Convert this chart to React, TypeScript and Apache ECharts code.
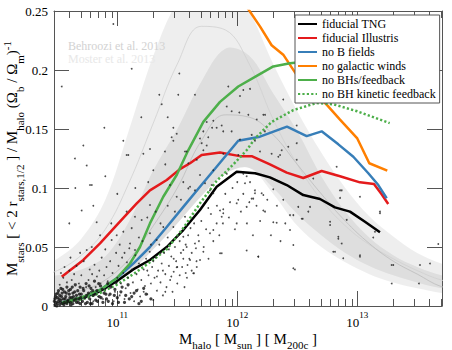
import React, { useEffect, useRef } from 'react';
import * as echarts from 'echarts';

const SERIF = 'Liberation Serif, Times New Roman, serif';
const X_MIN = 10.4725;
const X_MAX = 13.706;

// ---- observational bands (log10 Mhalo grid) ----
const bandGrid = [10.3, 10.5, 10.7, 10.9, 11.1, 11.3, 11.5, 11.7, 11.9, 12.1, 12.3, 12.5, 12.7, 12.9, 13.1, 13.3, 13.5, 13.7, 13.9];
const behrooziLo = [0.003, 0.004, 0.008, 0.014, 0.028, 0.048, 0.07, 0.093, 0.112, 0.117, 0.095, 0.068, 0.05, 0.037, 0.027, 0.02, 0.015, 0.011, 0.009];
const behrooziHi = [0.03, 0.04, 0.057, 0.09, 0.15, 0.212, 0.258, 0.28, 0.28, 0.25, 0.205, 0.165, 0.13, 0.1, 0.076, 0.059, 0.045, 0.036, 0.029];
const behrooziMid = [0.024, 0.03, 0.043, 0.065, 0.105, 0.155, 0.205, 0.237, 0.234, 0.205, 0.158, 0.12, 0.09, 0.068, 0.052, 0.04, 0.03, 0.022, 0.018];
const mosterLo = [0.003, 0.004, 0.008, 0.014, 0.028, 0.048, 0.07, 0.093, 0.112, 0.117, 0.1, 0.078, 0.06, 0.045, 0.034, 0.026, 0.02, 0.015, 0.012];
const mosterHi = [0.024, 0.026, 0.031, 0.042, 0.072, 0.115, 0.15, 0.19, 0.218, 0.212, 0.18, 0.148, 0.11, 0.08, 0.058, 0.043, 0.033, 0.026, 0.021];
const mosterMid = [0.006, 0.008, 0.013, 0.022, 0.04, 0.068, 0.1, 0.14, 0.162, 0.16, 0.145, 0.12, 0.095, 0.072, 0.053, 0.038, 0.027, 0.0165, 0.013];

// ---- simulation medians ----
const tngM = [10.537, 10.717, 10.856, 10.995, 11.133, 11.272, 11.412, 11.55, 11.689, 11.828, 11.995, 12.148, 12.272, 12.412, 12.55, 12.689, 12.814, 12.939, 13.064, 13.189];
const tngV = [0.0023, 0.007, 0.0125, 0.021, 0.031, 0.039, 0.05, 0.0644, 0.0814, 0.101, 0.1138, 0.1125, 0.109, 0.1025, 0.094, 0.0907, 0.0836, 0.08, 0.0714, 0.0625];
const illM = [10.537, 10.717, 10.856, 10.995, 11.162, 11.272, 11.412, 11.522, 11.606, 11.703, 11.856, 12.022, 12.12, 12.272, 12.412, 12.55, 12.703, 12.856, 13.022, 13.139, 13.203, 13.258];
const illV = [0.0248, 0.039, 0.053, 0.0686, 0.087, 0.098, 0.1068, 0.116, 0.121, 0.128, 0.13, 0.127, 0.127, 0.12, 0.113, 0.1085, 0.1144, 0.11, 0.1048, 0.1034, 0.0947, 0.0864];
const noBM = [10.537, 10.717, 10.856, 10.995, 11.133, 11.272, 11.412, 11.55, 11.689, 11.828, 12.008, 12.189, 12.414, 12.578, 12.703, 12.842, 12.967, 13.092, 13.175, 13.245];
const noBV = [0.003, 0.0076, 0.0136, 0.0235, 0.036, 0.05, 0.067, 0.084, 0.101, 0.118, 0.14, 0.1435, 0.152, 0.144, 0.148, 0.137, 0.1265, 0.1125, 0.1025, 0.0913];
const noWindM = [11.995, 12.189, 12.286, 12.383, 12.5, 12.75, 12.856, 13.0, 13.1, 13.25];
const noWindV = [0.266, 0.237, 0.221, 0.213, 0.195, 0.17, 0.158, 0.142, 0.121, 0.1147];
const noBHM = [10.537, 10.717, 10.856, 10.995, 11.106, 11.189, 11.272, 11.383, 11.495, 11.589, 11.717, 11.856, 12.008, 12.162, 12.3, 12.439, 12.564];
const noBHV = [0.0028, 0.0079, 0.0136, 0.0235, 0.036, 0.05, 0.07, 0.0926, 0.111, 0.1315, 0.156, 0.173, 0.186, 0.195, 0.203, 0.2057, 0.207];
const noKinM = [10.537, 10.717, 10.856, 10.995, 11.133, 11.272, 11.412, 11.55, 11.689, 11.828, 11.967, 12.078, 12.148, 12.286, 12.467, 12.66, 12.8, 13.0, 13.27];
const noKinV = [0.002, 0.006, 0.011, 0.018, 0.027, 0.037, 0.048, 0.066, 0.087, 0.106, 0.12, 0.132, 0.142, 0.156, 0.166, 0.172, 0.171, 0.165, 0.155];

// ---- individual haloes (log10 Mhalo, ratio) ----
const haloCore = [
  [10.48, 0.001], [10.48, 0.006], [10.49, 0.003], [10.49, 0.01], [10.5, 0.002], [10.5, 0.007], [10.51, 0.004], [10.51, 0.013],
  [10.52, 0.001], [10.52, 0.009], [10.53, 0.005], [10.53, 0.015], [10.54, 0.002], [10.54, 0.011], [10.55, 0.006], [10.56, 0.003],
  [10.56, 0.012], [10.57, 0.008], [10.58, 0.002], [10.58, 0.016], [10.59, 0.005], [10.6, 0.01], [10.61, 0.003], [10.61, 0.014],
  [10.62, 0.007], [10.63, 0.002], [10.63, 0.011], [10.64, 0.005], [10.65, 0.018], [10.66, 0.003], [10.66, 0.009], [10.67, 0.013],
  [10.68, 0.006], [10.69, 0.002], [10.69, 0.016], [10.7, 0.01], [10.71, 0.004], [10.72, 0.013], [10.73, 0.007], [10.74, 0.019],
  [10.75, 0.003], [10.76, 0.011], [10.77, 0.006], [10.78, 0.015], [10.79, 0.002], [10.8, 0.009], [10.81, 0.021], [10.82, 0.005],
  [10.83, 0.013], [10.85, 0.008], [10.86, 0.017], [10.88, 0.003], [10.89, 0.011], [10.91, 0.006], [10.92, 0.019], [10.94, 0.01],
  [10.96, 0.002], [10.98, 0.014], [11.0, 0.007], [11.03, 0.012], [11.06, 0.003], [11.09, 0.018], [11.12, 0.008], [11.16, 0.013],
  [11.2, 0.004], [11.24, 0.01], [11.28, 0.006],
  [10.475, 0.004], [10.485, 0.008], [10.495, 0.0], [10.505, 0.011], [10.515, 0.006], [10.525, 0.003], [10.535, 0.008], [10.545, 0.014],
  [10.555, 0.001], [10.565, 0.006], [10.575, 0.011], [10.585, 0.004], [10.595, 0.013], [10.605, 0.007], [10.615, 0.001], [10.625, 0.016],
  [10.635, 0.008], [10.645, 0.012], [10.655, 0.006], [10.675, 0.003], [10.685, 0.01], [10.695, 0.007], [10.715, 0.015], [10.735, 0.002],
  [10.745, 0.009], [10.765, 0.017], [10.775, 0.002], [10.795, 0.013], [10.815, 0.01], [10.835, 0.004], [10.845, 0.019], [10.865, 0.007],
  [10.875, 0.014], [10.905, 0.01], [10.925, 0.004], [10.945, 0.016], [10.975, 0.009], [10.99, 0.02], [11.01, 0.003], [11.04, 0.016],
  [11.07, 0.009], [11.1, 0.006], [11.14, 0.011], [11.18, 0.002], [11.22, 0.015],
];
const haloSpread = [
  [10.52, 0.018], [10.55, 0.024], [10.58, 0.02], [10.6, 0.03], [10.62, 0.022], [10.64, 0.027], [10.66, 0.034], [10.68, 0.019],
  [10.7, 0.026], [10.72, 0.038], [10.74, 0.016], [10.56, 0.033], [10.61, 0.041], [10.69, 0.045], [10.53, 0.028],
  [10.76, 0.022], [10.77, 0.031], [10.78, 0.012], [10.79, 0.027], [10.8, 0.004], [10.81, 0.035], [10.82, 0.016], [10.83, 0.025],
  [10.84, 0.008], [10.85, 0.03], [10.86, 0.019], [10.87, 0.041], [10.88, 0.006], [10.89, 0.026], [10.9, 0.014], [10.91, 0.033],
  [10.92, 0.021], [10.93, 0.009], [10.94, 0.038], [10.95, 0.017], [10.96, 0.028], [10.97, 0.004], [10.98, 0.012], [10.99, 0.045],
  [11.0, 0.024], [11.01, 0.034], [11.02, 0.009], [11.03, 0.019], [11.04, 0.041], [11.05, 0.028], [11.06, 0.006], [11.07, 0.015],
  [11.08, 0.037], [11.09, 0.024], [11.1, 0.049], [11.11, 0.011], [11.12, 0.031], [11.13, 0.02], [11.14, 0.004], [11.15, 0.043],
  [11.16, 0.027], [11.17, 0.014], [11.18, 0.036], [11.19, 0.008], [11.2, 0.022], [11.21, 0.055], [11.22, 0.031], [11.23, 0.017],
  [11.24, 0.04], [11.25, 0.01], [11.26, 0.026], [11.27, 0.046], [11.28, 0.019], [11.29, 0.033], [11.3, 0.005], [11.31, 0.024],
  [11.32, 0.041], [11.33, 0.013], [11.34, 0.03], [11.35, 0.052], [11.36, 0.02], [11.37, 0.036], [11.38, 0.009], [11.39, 0.045],
  [11.4, 0.027], [11.41, 0.016], [11.42, 0.058], [11.43, 0.034], [11.44, 0.022], [11.45, 0.042], [11.46, 0.012], [11.47, 0.029],
  [11.48, 0.05], [11.49, 0.038], [11.5, 0.019], [11.51, 0.06], [11.52, 0.026], [11.53, 0.045], [11.54, 0.033], [11.56, 0.016],
  [11.57, 0.052], [11.58, 0.024], [11.6, 0.04], [11.61, 0.066], [11.62, 0.03],
  [11.22, 0.012], [11.25, 0.03], [11.28, 0.052], [11.3, 0.038], [11.33, 0.025], [11.36, 0.045], [11.38, 0.03], [11.4, 0.012],
  [11.43, 0.048], [11.45, 0.025], [11.47, 0.04], [11.5, 0.033], [11.52, 0.055], [11.55, 0.04], [11.57, 0.028], [11.59, 0.06],
  [11.62, 0.045], [11.64, 0.07], [11.66, 0.038], [11.68, 0.055], [11.7, 0.072], [11.72, 0.05], [11.74, 0.065], [11.76, 0.04],
  [11.78, 0.078], [11.8, 0.055], [11.83, 0.085], [11.85, 0.06], [11.88, 0.07], [11.9, 0.095], [11.93, 0.075], [11.96, 0.1],
  [11.98, 0.065], [12.0, 0.105], [12.03, 0.08], [12.05, 0.095], [12.08, 0.07], [12.1, 0.088], [12.13, 0.06], [12.16, 0.085],
  [12.19, 0.072], [12.25, 0.09], [12.28, 0.06], [12.33, 0.085], [12.36, 0.055], [12.4, 0.07],
  [10.6, 0.07], [10.65, 0.1], [10.8, 0.085], [10.9, 0.11], [11.0, 0.095], [11.05, 0.14], [11.15, 0.1], [11.2, 0.16],
  [11.3, 0.115], [11.4, 0.12], [11.42, 0.16],
  [10.9, 0.048], [10.95, 0.07], [11.02, 0.052], [11.06, 0.045], [11.12, 0.066], [11.18, 0.058], [11.25, 0.075], [11.32, 0.08],
  [11.36, 0.07], [11.42, 0.085], [11.48, 0.08], [11.53, 0.09],
  [10.967, 0.239], [11.12, 0.201], [10.537, 0.186], [11.517, 0.197], [11.35, 0.179], [11.508, 0.179], [11.37, 0.171], [10.892, 0.151],
  [10.717, 0.136], [11.467, 0.151], [11.495, 0.146], [11.453, 0.143], [11.467, 0.14], [11.272, 0.133], [11.397, 0.131], [11.578, 0.131],
  [11.078, 0.128], [10.647, 0.125], [10.772, 0.1025], [10.703, 0.081], [10.828, 0.071],
  [11.647, 0.179], [11.925, 0.186], [12.05, 0.183], [12.106, 0.184], [12.022, 0.178], [12.383, 0.175], [11.912, 0.169], [11.953, 0.165],
  [12.017, 0.164], [12.092, 0.162], [12.217, 0.162], [11.745, 0.156], [11.8, 0.157], [12.162, 0.158], [11.79, 0.151], [11.87, 0.153],
  [11.828, 0.151], [11.717, 0.148], [11.758, 0.143], [11.689, 0.142], [11.883, 0.148], [11.953, 0.148], [12.022, 0.141], [12.12, 0.145],
  [12.23, 0.148], [12.189, 0.131], [12.37, 0.132], [11.703, 0.138], [11.745, 0.136], [11.717, 0.132], [11.564, 0.131], [12.147, 0.14],
  [11.883, 0.129], [12.008, 0.128], [12.356, 0.128], [12.495, 0.124], [11.592, 0.121], [11.662, 0.124], [11.8, 0.115], [11.689, 0.111],
  [11.912, 0.112], [12.05, 0.112], [12.078, 0.11], [12.106, 0.105], [12.064, 0.104], [11.731, 0.104], [11.787, 0.1025], [11.772, 0.098],
  [11.606, 0.101], [11.647, 0.098], [11.8, 0.0955], [11.856, 0.081], [11.883, 0.082], [11.758, 0.083], [11.939, 0.088], [12.008, 0.09],
  [12.147, 0.0955], [12.203, 0.0955], [12.3, 0.099], [12.217, 0.081], [12.231, 0.08], [12.12, 0.091], [12.439, 0.077], [12.508, 0.084],
  [12.3, 0.071], [12.328, 0.0706], [11.564, 0.0757], [11.55, 0.0587], [11.675, 0.06], [11.8, 0.0644], [11.578, 0.05], [11.647, 0.053],
  [11.655, 0.049], [11.689, 0.039], [11.585, 0.0347], [11.633, 0.0277], [11.856, 0.0447], [11.995, 0.07], [12.078, 0.047], [12.175, 0.0418],
  [12.439, 0.0644], [12.467, 0.0517], [12.467, 0.032], [11.87, 0.0757],
  [12.231, 0.162], [12.495, 0.153], [12.425, 0.135], [12.286, 0.129], [12.342, 0.1265], [12.495, 0.138], [12.147, 0.098], [12.133, 0.091],
  [12.217, 0.094], [12.383, 0.09], [12.467, 0.077], [12.537, 0.074], [12.606, 0.084], [12.856, 0.098], [12.828, 0.118], [12.87, 0.098],
  [12.773, 0.0686], [12.842, 0.0587], [12.87, 0.053], [12.8, 0.046], [12.883, 0.0404], [13.022, 0.0418], [13.189, 0.0786], [13.147, 0.063],
  [13.3, 0.0347], [13.522, 0.0347], [13.606, 0.036], [13.675, 0.0525], [12.633, 0.108], [12.856, 0.0916], [13.022, 0.0926], [13.189, 0.08],
  [12.912, 0.073], [12.592, 0.08], [12.773, 0.0714], [12.545, 0.074], [12.842, 0.057], [13.133, 0.058], [13.286, 0.0347],
  [11.87, 0.0447], [12.175, 0.042], [12.48, 0.031], [11.639, 0.0277], [11.495, 0.0328], [12.814, 0.046], [13.287, 0.019], [13.514, 0.019],
  [13.022, 0.043],
  [10.745, 0.119], [10.787, 0.1025], [11.092, 0.128], [11.217, 0.129], [11.258, 0.105], [11.272, 0.0856], [11.078, 0.08], [11.147, 0.0757],
  [11.203, 0.0729], [11.05, 0.063], [10.995, 0.06], [10.953, 0.056], [11.106, 0.053], [11.272, 0.0616], [11.328, 0.056], [10.856, 0.06],
  [10.787, 0.05], [10.745, 0.0475], [11.147, 0.0475], [11.383, 0.067], [11.467, 0.067], [11.495, 0.0587], [11.55, 0.0475], [11.606, 0.039],
  [11.662, 0.033], [11.717, 0.046], [11.772, 0.0616], [11.828, 0.07], [11.883, 0.0786], [11.995, 0.087], [12.078, 0.084], [11.439, 0.1025],
  [11.495, 0.0926], [11.55, 0.105], [11.592, 0.0997],
];

const majorTicks = [11, 12, 13];
const minorTicks: number[] = [];
for (let e = 10; e <= 13; e++) {
  for (let k = 2; k <= 9; k++) {
    const v = e + Math.log10(k);
    if (v > X_MIN && v < X_MAX) minorTicks.push(v);
  }
}

const zip = (xs: number[], ys: number[]) => xs.map((x, i) => [x, ys[i]]);

function bandSeries(lo: number[], hi: number[], fill: string) {
  return {
    type: 'custom',
    silent: true,
    clip: true,
    data: bandGrid.map((x, i) => [x, lo[i], hi[i]]),
    encode: { x: 0, y: [1, 2] },
    renderItem: (params: any, api: any) => {
      if (params.dataIndex !== 0) return null;
      const up = bandGrid.map((x, i) => api.coord([x, hi[i]]));
      const dn = bandGrid.map((x, i) => api.coord([x, lo[i]])).reverse();
      return {
        type: 'polygon',
        shape: { points: up.concat(dn), smooth: 0.35 },
        style: { fill, stroke: 'none' },
      };
    },
    z: 1,
  };
}

function midLine(vals: number[], color: string) {
  return {
    type: 'line',
    data: zip(bandGrid, vals),
    smooth: 0.4,
    symbol: 'none',
    silent: true,
    lineStyle: { color, width: 0.8 },
    z: 1,
  };
}

function simLine(name: string, xs: number[], ys: number[], color: string, dotted = false) {
  return {
    name,
    type: 'line',
    data: zip(xs, ys),
    symbol: 'none',
    lineStyle: { color, width: 2.5, type: dotted ? [2.2, 2.2] : 'solid' },
    itemStyle: { color },
    z: 2,
  };
}

const axisColor = '#555';
// all tokens centred; subscripts/superscripts shifted with one-sided padding
const xNameRich = {
  m: { fontFamily: SERIF, fontSize: 15, lineHeight: 15, color: '#000' },
  s: { fontFamily: SERIF, fontSize: 11, lineHeight: 11, padding: [13, 0, 0, 0], color: '#000' },
};
const yNameRich = {
  m: { fontFamily: SERIF, fontSize: 15, lineHeight: 15, color: '#000' },
  s: { fontFamily: SERIF, fontSize: 11, lineHeight: 11, padding: [15, 0, 0, 0], color: '#000' },
  p: { fontFamily: SERIF, fontSize: 11, lineHeight: 11, padding: [0, 0, 10, 0], color: '#000' },
};
const tickRich = {
  n: { fontFamily: SERIF, fontSize: 13, lineHeight: 13, color: '#000' },
  p: { fontFamily: SERIF, fontSize: 9, lineHeight: 9, padding: [0, 0, 15, 0], color: '#000' },
};

export default function App() {
  const ref = useRef<HTMLDivElement>(null);
  useEffect(() => {
    if (!ref.current) return;
    const chart = echarts.init(ref.current, undefined, { renderer: 'svg' });
    const xCommon = { type: 'value', min: X_MIN, max: X_MAX, splitLine: { show: false }, gridIndex: 0 };
    const names = ['fiducial TNG', 'fiducial Illustris', 'no B fields', 'no galactic winds', 'no BHs/feedback', 'no BH kinetic feedback'];
    chart.setOption({
      animation: false,
      backgroundColor: '#fff',
      textStyle: { fontFamily: SERIF },
      grid: { left: 54, right: 10, top: 11, bottom: 44, containLabel: false, outerBoundsMode: 'none' },
      xAxis: [
        {
          ...xCommon,
          position: 'bottom',
          axisLine: { show: true, lineStyle: { color: axisColor, width: 1 } },
          axisTick: { show: true, inside: true, length: 15, customValues: majorTicks, lineStyle: { color: axisColor } },
          axisLabel: {
            show: true,
            customValues: majorTicks,
            margin: 10,
            fontFamily: SERIF,
            formatter: (v: number) => `{n|10}{p|${Math.round(v)}}`,
            rich: tickRich,
          },
          name: '{m|M}{s|halo}{m| [ M}{s|sun}{m| ] [ M}{s|200c}{m| ]}',
          nameLocation: 'middle',
          nameGap: 25,
          nameMoveOverlap: false,
          nameTextStyle: { fontFamily: SERIF, rich: xNameRich },
        },
        {
          ...xCommon,
          position: 'bottom',
          axisLine: { show: false },
          axisTick: { show: true, inside: true, length: 7, customValues: minorTicks, lineStyle: { color: axisColor } },
          axisLabel: { show: false },
        },
        {
          ...xCommon,
          position: 'top',
          axisLine: { show: true, lineStyle: { color: axisColor, width: 1 } },
          axisTick: { show: true, inside: true, length: 15, customValues: majorTicks, lineStyle: { color: axisColor } },
          axisLabel: { show: false },
        },
        {
          ...xCommon,
          position: 'top',
          axisLine: { show: false },
          axisTick: { show: true, inside: true, length: 7, customValues: minorTicks, lineStyle: { color: axisColor } },
          axisLabel: { show: false },
        },
      ],
      yAxis: [
        {
          type: 'value',
          min: 0,
          max: 0.25,
          interval: 0.05,
          position: 'left',
          splitLine: { show: false },
          axisLine: { show: true, lineStyle: { color: axisColor, width: 1 } },
          axisTick: { show: true, inside: true, length: 15, lineStyle: { color: axisColor } },
          axisLabel: { margin: 6, fontFamily: SERIF, fontSize: 13, color: '#000', showMinLabel: true, showMaxLabel: true },
          name: '{m|M}{s|stars}{m| [ < 2 r}{s|stars,1/2}{m| ] / M}{s|halo}{m| (Ω}{s|b}{m| / Ω}{s|m}{m|)}{p|-1}',
          nameLocation: 'middle',
          nameGap: 34.5,
          nameRotate: 90,
          nameMoveOverlap: false,
          nameTextStyle: { fontFamily: SERIF, rich: yNameRich },
        },
        {
          type: 'value',
          min: 0,
          max: 0.25,
          interval: 0.05,
          position: 'right',
          splitLine: { show: false },
          axisLine: { show: true, lineStyle: { color: axisColor, width: 1 } },
          axisTick: { show: true, inside: true, length: 15, lineStyle: { color: axisColor } },
          axisLabel: { show: false },
        },
      ],
      legend: {
        orient: 'vertical',
        left: 295,
        top: 15,
        z: 10,
        padding: [2, 4, 2, 2],
        itemGap: 0,
        itemWidth: 19,
        itemHeight: 14,
        backgroundColor: '#fff',
        borderColor: axisColor,
        borderWidth: 1,
        borderRadius: 0,
        itemStyle: { opacity: 0 },
        textStyle: { fontFamily: SERIF, fontSize: 12, color: '#000', lineHeight: 14 },
        data: names,
      },
      graphic: [
        { type: 'text', left: 68, top: 39.5, style: { text: 'Behroozi et al. 2013', font: '12px Liberation Serif, serif', fill: '#d2d2d2' }, z: 3 },
        { type: 'text', left: 68, top: 52.5, style: { text: 'Moster et al. 2013', font: '12px Liberation Serif, serif', fill: '#e8e8e8' }, z: 3 },
      ],
      series: [
        bandSeries(behrooziLo, behrooziHi, 'rgba(0,0,0,0.065)'),
        bandSeries(mosterLo, mosterHi, 'rgba(0,0,0,0.065)'),
        midLine(behrooziMid, '#d0d0d0'),
        midLine(mosterMid, '#bdbdbd'),
        {
          type: 'scatter',
          data: haloCore,
          symbol: 'circle',
          symbolSize: 3.2,
          itemStyle: { color: '#111' },
          silent: true,
          z: 2,
        },
        {
          type: 'scatter',
          data: haloSpread,
          symbol: 'circle',
          symbolSize: 1.8,
          itemStyle: { color: '#222' },
          silent: true,
          z: 2,
        },
        simLine(names[0], tngM, tngV, '#000000'),
        simLine(names[1], illM, illV, '#e41a1c'),
        simLine(names[2], noBM, noBV, '#377eb8'),
        simLine(names[3], noWindM, noWindV, '#ff7f00'),
        simLine(names[4], noBHM, noBHV, '#4daf4a'),
        simLine(names[5], noKinM, noKinV, '#4daf4a', true),
      ],
    });
    return () => chart.dispose();
  }, []);
  return <div ref={ref} style={{ position: 'fixed', left: 0, top: 0, width: 452, height: 350 }} />;
}
